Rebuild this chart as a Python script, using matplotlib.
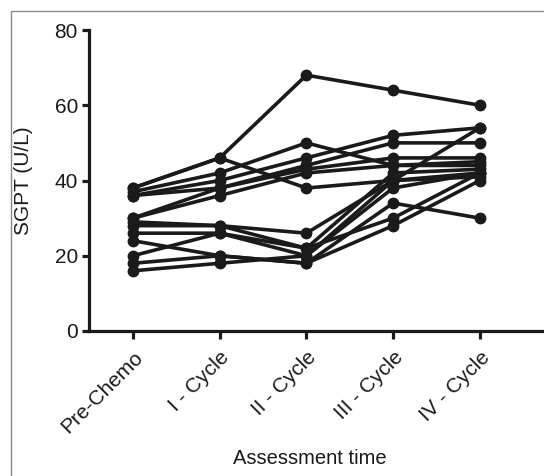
import matplotlib
matplotlib.use("Agg")
import matplotlib.pyplot as plt
from matplotlib.patches import Rectangle

plt.rcParams['font.family'] = ['Liberation Sans', 'DejaVu Sans']

categories = ["Pre-Chemo", "I - Cycle", "II - Cycle", "III - Cycle", "IV - Cycle"]
patients = [
    [38, 46, 68, 64, 60],
    [38, 46, 38, 40, 42],
    [37, 42, 50, 44, 44],
    [36, 40, 46, 52, 54],
    [36, 38, 44, 50, 50],
    [30, 38, 43, 46, 46],
    [30, 36, 42, 44, 45],
    [29, 28, 26, 40, 54],
    [28, 28, 22, 42, 43],
    [26, 26, 20, 38, 42],
    [24, 20, 18, 34, 30],
    [20, 26, 22, 30, 42],
    [18, 20, 18, 28, 40],
    [16, 18, 20, 40, 41],
]
yticks = [0, 20, 40, 60, 80]

W, H = 544, 476
fig = plt.figure(figsize=(W / 100, H / 100), dpi=100)
ax = fig.add_axes([89 / W, 1 - 331 / H, (W - 89) / W, (331 - 30) / H])
ax.set_facecolor('none')

x = list(range(len(categories)))
for vals in patients:
    ax.plot(x, vals, color='#1a1a1a', lw=2.6, marker='o', ms=7.5,
            solid_joinstyle='round', clip_on=False, zorder=3)

ax.set_ylim(0, 80)
ax.set_xlim(-0.507, 4.74)
ax.set_yticks(yticks)
ax.set_xticks(x)
ax.set_xticklabels(categories, rotation=45, ha='right', rotation_mode='anchor')

for s in ['top', 'right']:
    ax.spines[s].set_visible(False)
for s in ['left', 'bottom']:
    ax.spines[s].set_linewidth(2.3)
    ax.spines[s].set_color('#1a1a1a')

ax.tick_params(axis='both', which='major', direction='out', width=2.3,
               color='#1a1a1a', labelsize=15, labelcolor='#1a1a1a')
ax.tick_params(axis='y', length=5, pad=3)
ax.tick_params(axis='x', length=6, pad=6)

ax.set_ylabel('SGPT (U/L)', fontsize=15, color='#1a1a1a')
ax.yaxis.set_label_coords(-56 / (W - 89), 0.5)
ax.set_xlabel('Assessment time', fontsize=14.5, color='#1a1a1a')
ax.xaxis.set_label_coords((310 - 89) / (W - 89), -(458 - 331) / (331 - 30))
ax.xaxis.label.set_va('center')

fig.patches.append(Rectangle((11 / W, -0.1), 1.2, 1 - 11 / H + 0.1,
                             transform=fig.transFigure, fill=False,
                             edgecolor='#8a8a8a', lw=1.0))

fig.savefig('out.png', dpi=100)
